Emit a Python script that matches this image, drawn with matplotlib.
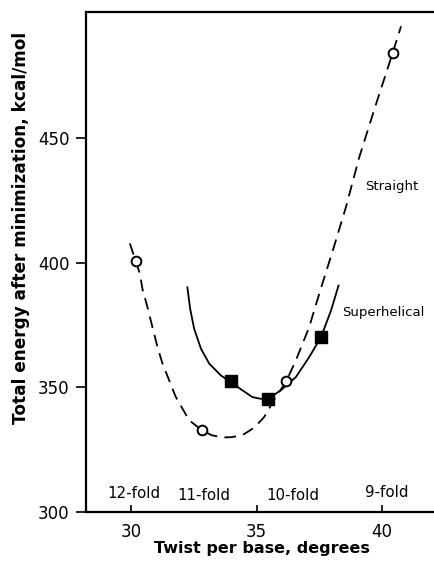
import matplotlib.pyplot as plt

# Straight: computed points (open circles) and dashed fitted curve
straight_x = [30.2, 32.83, 36.17, 40.42]
straight_y = [400.5, 333.0, 352.5, 484.0]
straight_curve_x = [29.95, 30.2, 30.35, 30.45, 30.65, 30.85, 31.05, 31.25, 31.78, 32.31,
                    32.82, 33.2, 33.64, 34.0, 34.43, 34.9, 35.30, 35.76, 36.16, 36.56,
                    37.09, 37.49, 38.02, 38.55, 39.08, 39.75, 40.41, 40.75]
straight_curve_y = [407.7, 400.1, 395.5, 389.5, 382.1, 374.1, 366.1, 359.5, 346.1, 336.8,
                    332.8, 330.8, 329.9, 330.0, 330.8, 333.8, 338.1, 346.1, 352.1, 360.8,
                    374.1, 387.5, 404.5, 422.1, 442.1, 463.5, 483.9, 494.8]

# Superhelical: computed points (filled squares) and solid fitted curve
super_x = [33.97, 35.47, 37.56]
super_y = [352.4, 345.5, 370.3]
super_curve_x = [32.24, 32.35, 32.51, 32.78, 33.11, 33.57, 33.97, 34.43, 34.83,
                 35.15, 35.47, 35.96, 36.56, 37.09, 37.56, 37.96, 38.26]
super_curve_y = [390.1, 381.5, 373.5, 365.5, 359.5, 354.8, 352.1, 348.8, 346.1,
                 345.4, 345.5, 348.8, 354.1, 362.1, 370.1, 380.8, 390.8]

fold_labels = ['12-fold', '11-fold', '10-fold', '9-fold']
fold_x = [30.1, 32.9, 36.43, 40.18]
fold_y = [307.6, 306.8, 306.8, 308.0]

fig = plt.figure(figsize=(4.34, 5.63), dpi=100)
ax = fig.add_axes([0.198, 0.0906, 0.81, 0.888])

ax.plot(straight_curve_x, straight_curve_y, color='black', lw=1.3, dashes=(6.5, 4))
ax.plot(super_curve_x, super_curve_y, color='black', lw=1.3)
ax.plot(straight_x, straight_y, 'o', ms=7, mfc='white', mec='black', mew=1.4)
ax.plot(super_x, super_y, 's', ms=8.5, color='black')

ax.text(39.3, 430.4, 'Straight', fontsize=9.5, va='center')
ax.text(38.4, 380, 'Superhelical', fontsize=9.5, va='center')
for lab, x, y in zip(fold_labels, fold_x, fold_y):
    ax.text(x, y, lab, fontsize=10.8, ha='center', va='center')

ax.set_xlim(28.2, 42.2)
ax.set_ylim(300, 500.5)
ax.set_xticks([30, 35, 40])
ax.set_yticks([300, 350, 400, 450])
ax.tick_params(axis='x', direction='in', length=5, width=1.2, labelsize=12, pad=8)
ax.tick_params(axis='y', direction='out', length=7, width=1.2, labelsize=12, pad=5)
for s in ['left', 'bottom', 'top']:
    ax.spines[s].set_linewidth(1.6)
ax.spines['right'].set_visible(False)

ax.set_xlabel('Twist per base, degrees', fontsize=11.5, fontweight='bold', labelpad=0)
ax.set_ylabel('Total energy after minimization, kcal/mol', fontsize=12.2, fontweight='bold')
ax.yaxis.set_label_coords(-0.16, 0.568)

plt.savefig('out.png', dpi=100)
